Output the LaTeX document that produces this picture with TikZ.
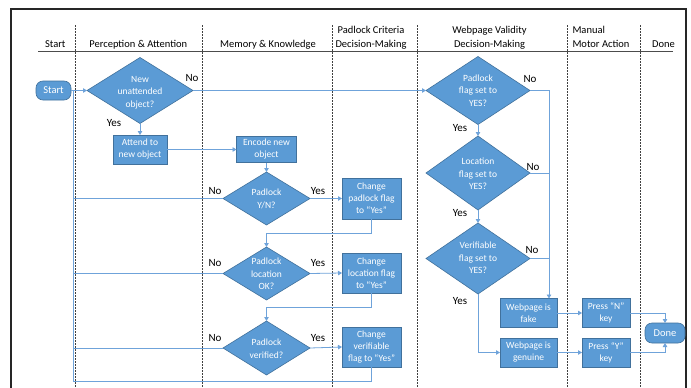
\documentclass[tikz,border=0pt]{standalone}
\usepackage{fontspec}
\setmainfont{Carlito}
\usetikzlibrary{shapes.geometric,arrows.meta,calc}
\definecolor{boxfill}{HTML}{5B9BD5}
\definecolor{boxline}{HTML}{41719C}
\definecolor{lineblue}{HTML}{6FA3DA}
\begin{document}
\begin{tikzpicture}[x=1pt,y=-1pt,
  every node/.style={inner sep=0pt, outer sep=0pt},
  proc/.style={rectangle, draw=boxline, fill=boxfill, line width=0.6pt, text=white, font=\fontsize{9.5}{12}\selectfont, align=center},
  term/.style={rectangle, rounded corners=7pt, draw=boxline, fill=boxfill, line width=0.6pt, text=white, font=\fontsize{10.5}{12}\selectfont},
  dia/.style={diamond, draw=boxline, fill=boxfill, line width=0.6pt},
  dtext/.style={text=white, font=\fontsize{9.5}{12.5}\selectfont, align=center},
  lab/.style={font=\fontsize{11}{13}\selectfont, text=black},
  hdr/.style={font=\fontsize{10.5}{12}\selectfont, anchor=base},
  lane/.style={draw=black!75, line width=0.7pt, dash pattern=on 2pt off 1pt},
  conn/.style={draw=lineblue, line width=0.8pt},
  arr/.style={conn, -{Triangle[width=4.5pt,length=4pt]}},
]
\useasboundingbox[fill=white] (0,0) rectangle (691,388);

% frame
\draw[line width=1.8pt, black!85] (11,400) -- (11,9) -- (686,9) -- (686,400);

% header
\draw[black!70, line width=1pt] (38,51) -- (673,51);
\foreach \lx in {75.5,202,332,417,567,640}
  \draw[lane] (\lx,25) -- (\lx,392);
\node[hdr] (h1) at (55.3,47.5) {Start};
\node[hdr] (h2) at (138.3,47.5) {Perception \& Attention};
\node[hdr] (h3) at (268,47.5) {Memory \& Knowledge};
\node[hdr] (h4a) at (371,33.5) {Padlock Criteria};
\node[hdr] (h4b) at (371,47.5) {Decision-Making};
\node[hdr] (h5a) at (489.5,33.5) {Webpage Validity};
\node[hdr] (h5b) at (489.5,47.5) {Decision-Making};
\node[hdr, anchor=base west] (h6a) at (572.5,33.5) {Manual};
\node[hdr, anchor=base west] (h6b) at (572.5,47.5) {Motor Action};
\node[hdr] (h7) at (663.5,47.5) {Done};

% nodes
\node[term, minimum width=35pt, minimum height=19pt] (start) at (53.5,90.5) {Start};
\node[dia, minimum width=106pt, minimum height=66pt] (d1) at (140,90.5) {};
\node[dtext] (d1t) at (140,92.5) {New\\unattended\\object?};
\node[proc, minimum width=54pt, minimum height=29pt] (attend) at (140,149.5) {Attend to\\new object};
\node[proc, minimum width=60pt, minimum height=26pt] (encode) at (266.5,149.5) {Encode new\\object};

\node[dia, minimum width=87pt, minimum height=53pt] (d2) at (266.5,198.5) {};
\node[dtext] (d2t) at (266.5,199) {Padlock\\Y/N?};
\node[proc, minimum width=59pt, minimum height=41pt] (c1) at (371.5,198.5) {Change\\padlock flag\\to “Yes”};

\node[dia, minimum width=87pt, minimum height=53pt] (d3) at (266.5,273.5) {};
\node[dtext] (d3t) at (266.5,274) {Padlock\\location\\OK?};
\node[proc, minimum width=59pt, minimum height=40pt] (c2) at (371.5,273) {Change\\location flag\\to “Yes”};

\node[dia, minimum width=87pt, minimum height=54pt] (d4) at (266.5,348) {};
\node[dtext] (d4t) at (266.5,348.5) {Padlock\\verified?};
\node[proc, minimum width=59pt, minimum height=40pt] (c3) at (371.5,347) {Change\\verifiable\\flag to “Yes”};

\node[dia, minimum width=104pt, minimum height=68pt] (w1) at (478,90.5) {};
\node[dtext] (w1t) at (478,90.5) {Padlock\\flag set to\\YES?};
\node[dia, minimum width=104pt, minimum height=74pt] (w2) at (478,173) {};
\node[dtext] (w2t) at (478,174) {Location\\flag set to\\YES?};
\node[dia, minimum width=104pt, minimum height=71pt] (w3) at (478,258.5) {};
\node[dtext] (w3t) at (478,258) {Verifiable\\flag set to\\YES?};

\node[proc, minimum width=57pt, minimum height=29pt] (fake) at (528.5,313) {Webpage is\\fake};
\node[proc, minimum width=57pt, minimum height=29pt] (genuine) at (528.5,352.5) {Webpage is\\genuine};
\node[proc, minimum width=48pt, minimum height=29pt] (pn) at (606,313) {Press “N”\\key};
\node[proc, minimum width=48pt, minimum height=29pt] (py) at (606,352.5) {Press “Y”\\key};
\node[term, minimum width=40pt, minimum height=20pt] (done) at (665,333) {Done};

% junction coordinates
\coordinate (loopT) at (73.5,90.5);
\coordinate (loopB) at (73.5,381.5);
\coordinate (k1) at (371.5,233);
\coordinate (k2) at (371.5,307);
\coordinate (rT) at (549,90.5);

% connectors
\draw[arr] (start.east) -- (d1.west);
\draw[arr] (d1.south) -- (attend.north);
\draw[arr] (d1.east) -- (w1.west);
\draw[arr] (attend.east) -- (encode.west);
\draw[arr] (encode.south) -- (d2.north);
\draw[arr] (d2.east) -- (c1.west);
\draw[conn] (d2.west) -- (d2.west -| loopT);
\draw[arr] (c1.south) -- (k1) -| (d3.north);
\draw[arr] (d3.east) -- (c2.west);
\draw[conn] (d3.west) -- (d3.west -| loopT);
\draw[arr] (c2.south) -- (k2) -| (d4.north);
\draw[arr] (d4.east) -- (c3.west);
\draw[conn] (d4.west) -- (d4.west -| loopT);
\draw[conn] (c3.south) |- (loopB) -- (loopT);

\draw[arr] (w1.south) -- (w2.north);
\draw[arr] (w2.south) -- (w3.north);
\draw[arr] (w1.east) -- (rT) -- (rT |- fake.north);
\draw[conn] (w2.east) -- (w2.east -| rT);
\draw[conn] (w3.east) -- (w3.east -| rT);
\draw[arr] (w3.south) |- (genuine.west);
\draw[arr] (fake.east) -- (pn.west);
\draw[arr] (genuine.east) -- (py.west);
\draw[arr] (pn.east) -| (done.north);
\draw[arr] (py.east) -| (done.south);

% labels
\node[lab] (l1n) at (192,78) {No};
\node[lab] (l1y) at (114,123) {Yes};
\node[lab] (l2n) at (215,191) {No};
\node[lab] (l2y) at (318,191) {Yes};
\node[lab] (l3n) at (215,263) {No};
\node[lab] (l3y) at (318,263) {Yes};
\node[lab] (l4n) at (215,338) {No};
\node[lab] (l4y) at (318,338) {Yes};
\node[lab] (l5n) at (530,79) {No};
\node[lab] (l5y) at (460,128) {Yes};
\node[lab] (l6n) at (533,167) {No};
\node[lab] (l6y) at (460,213) {Yes};
\node[lab] (l7n) at (532,250) {No};
\node[lab] (l7y) at (460,301) {Yes};
\end{tikzpicture}
\end{document}
